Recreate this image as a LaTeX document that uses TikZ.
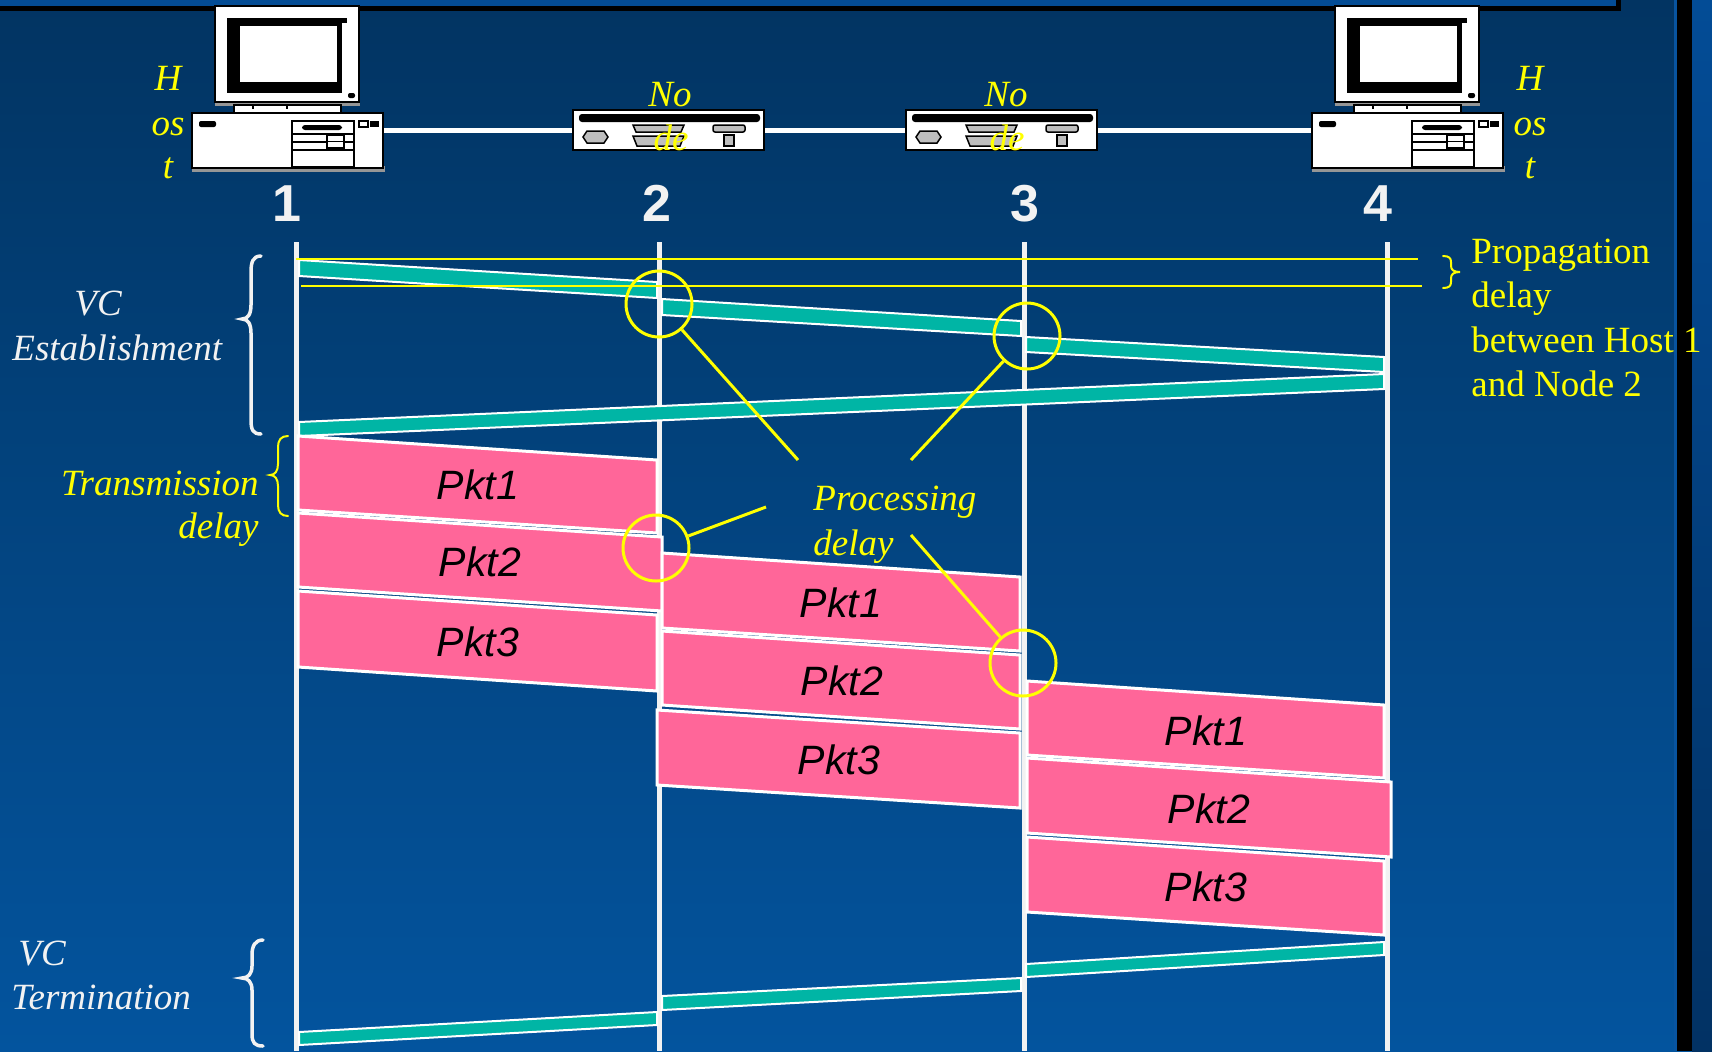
\documentclass[tikz,border=0pt]{standalone}
\usepackage{fontspec}
\setmainfont{Liberation Serif}
\setsansfont{Liberation Sans}
\definecolor{bgtop}{RGB}{2,52,98}
\definecolor{bgbot}{RGB}{3,84,158}
\definecolor{striptop}{RGB}{4,76,148}
\definecolor{sidetop}{RGB}{3,76,150}
\definecolor{sidebot}{RGB}{2,50,100}
\definecolor{sideline}{RGB}{8,84,160}
\definecolor{linegray}{RGB}{242,242,242}
\definecolor{barteal}{RGB}{0,181,165}
\definecolor{pktpink}{RGB}{255,102,153}
\definecolor{portgray}{RGB}{190,190,190}
\definecolor{shadowgray}{RGB}{150,150,150}
\definecolor{ylw}{RGB}{255,255,0}

% desktop computer, drawn at the position of host 1
\newcommand\drawcomputer{%
  \fill[shadowgray] (215,100) rectangle (360,106);
  \filldraw[fill=white, draw=black, line width=1pt] (215,6) rectangle (359,102);
  \fill[black] (227,18) rectangle (342,93);
  \fill[black] (227,18) rectangle (347,23);
  \fill[white] (240,26) rectangle (337,82);
  \fill[black, rounded corners=1pt] (348,93) rectangle (355,98);
  \filldraw[fill=white, draw=black, line width=0.75pt] (234,105) rectangle (341,113);
  \draw[black, line width=0.75pt] (253,104) -- (253,109) (287,104) -- (287,109);
  \fill[shadowgray] (192,166) rectangle (385,172);
  \filldraw[fill=white, draw=black, line width=1.25pt] (192,113) rectangle (383,168);
  \fill[black, rounded corners=1pt] (199,121) rectangle (216,127);
  \draw[black, line width=1pt] (292,121) rectangle (354,167);
  \fill[black, rounded corners=1.5pt] (302,125) rectangle (342,130);
  \draw[black, line width=0.75pt] (292,134) -- (354,134) (292,142) -- (327,142)
        (344,142) -- (354,142) (292,150) -- (354,150);
  \draw[black, line width=0.75pt] (327,135) rectangle (344,148) (327,141.5) -- (344,141.5);
  \draw[black, line width=0.75pt] (359,121) rectangle (368,127);
  \fill[black] (370,121) rectangle (379,127);
}

% network node, drawn at the position of node 2
\newcommand\drawrouter{%
  \filldraw[fill=white, draw=black, line width=1.25pt] (573,110) rectangle (764,150);
  \fill[black, rounded corners=1.5pt] (579,114) rectangle (760,122);
  \filldraw[fill=portgray, draw=black, line width=0.75pt]
    (583,137) -- (587,131) -- (604,131) -- (608,137) -- (604,143) -- (587,143) -- cycle;
  \filldraw[fill=portgray, draw=black, line width=0.75pt]
    (633,125) -- (684,125) -- (681,132) -- (636,132) -- cycle;
  \filldraw[fill=portgray, draw=black, line width=0.75pt]
    (633,136) -- (684,136) -- (680,146) -- (637,146) -- cycle;
  \filldraw[fill=portgray, draw=black, line width=0.75pt, rounded corners=1pt]
    (713,125) rectangle (745,132);
  \filldraw[fill=portgray, draw=black, line width=0.75pt] (724,135) rectangle (734,146);
}

\begin{document}
\begin{tikzpicture}[x=0.5pt, y=-0.5pt,
  tline/.style={draw=linegray, line width=2.5pt},
  yline/.style={draw=ylw, line width=1pt},
  bar/.style={fill=barteal, draw=white, line width=1pt},
  pkt/.style={fill=pktpink, draw=white, line width=1.5pt},
  ptxt/.style={font=\fontsize{20.5}{20.5}\selectfont\sffamily\itshape, text=black, inner sep=0pt},
  num/.style={font=\fontsize{26}{26}\selectfont\sffamily\bfseries, text=linegray, inner sep=0pt},
  ylbl/.style={font=\fontsize{18.5}{22}\selectfont\itshape, text=ylw, inner sep=0pt},
  wlbl/.style={font=\fontsize{18.5}{22}\selectfont\itshape, text=linegray, inner sep=0pt},
  plbl/.style={font=\fontsize{18.5}{22}\selectfont, text=ylw, inner sep=0pt},
  pcirc/.style={circle, draw=ylw, line width=1.5pt, minimum size=33pt, inner sep=0pt},
  lead/.style={draw=ylw, line width=1.5pt},
  wbrace/.style={draw=linegray, line width=1.75pt, line cap=round},
  ybrace/.style={draw=ylw, line width=1pt, line cap=round}]

\useasboundingbox (0,0) rectangle (1712,1051);

% background and frame
\shade[top color=bgtop, bottom color=bgbot] (0,0) rectangle (1712,1051);
\fill[striptop] (0,0) rectangle (1616,6);
\fill[black] (0,6) rectangle (1621,11);
\fill[black] (1616,0) rectangle (1621,11);
\fill[sideline] (1674,0) rectangle (1677,1051);
\fill[black] (1677,0) rectangle (1692,1051);
\shade[top color=sidetop, bottom color=sidebot] (1692,0) rectangle (1712,1051);

% link between the stations
\coordinate (linkA) at (384,130);
\coordinate (linkB) at (1311,130);
\draw[draw=white, line width=2.5pt] (linkA) -- (linkB);

% stations
\drawcomputer
\begin{scope}[shift={(1120,0)}]\drawcomputer\end{scope}
\drawrouter
\begin{scope}[shift={(333,0)}]\drawrouter\end{scope}

% station labels
\node[ylbl, anchor=base] (h1a) at (168,90) {H};
\node[ylbl, anchor=base] (h1b) at (168,135) {os};
\node[ylbl, anchor=base] (h1c) at (168,178) {t};
\node[ylbl, anchor=base] (h4a) at (1530,90) {H};
\node[ylbl, anchor=base] (h4b) at (1530,135) {os};
\node[ylbl, anchor=base] (h4c) at (1530,178) {t};
\node[ylbl, anchor=base] (r2a) at (670,106) {No};
\node[ylbl, anchor=base] (r2b) at (671,150) {de};
\node[ylbl, anchor=base] (r3a) at (1006,106) {No};
\node[ylbl, anchor=base] (r3b) at (1007,150) {de};

\node[num, anchor=base] (n1) at (287,221) {1};
\node[num, anchor=base] (n2) at (657,221) {2};
\node[num, anchor=base] (n3) at (1025,221) {3};
\node[num, anchor=base] (n4) at (1378,221) {4};

% time axes
\foreach \i/\x in {1/296, 2/659, 3/1024, 4/1387} {
  \coordinate (t\i) at (\x,242);
  \coordinate (b\i) at (\x,1051);
  \draw[tline] (t\i) -- (b\i);
}

% VC establishment
\draw[bar] (299,260) -- (657,282) -- (657,298) -- (299,276) -- cycle;
\draw[bar] (662,299) -- (1021,321) -- (1021,336) -- (662,315) -- cycle;
\draw[bar] (1026,337) -- (1384,357) -- (1384,372) -- (1026,352) -- cycle;
\draw[bar] (1384,374) -- (1384,389) -- (299,436) -- (299,422) -- cycle;

% packets, hop 1
\draw[pkt] (298,436) -- (657,460) -- (657,533) -- (298,510) -- cycle;
\draw[pkt] (298,513) -- (662,537) -- (662,611) -- (298,587) -- cycle;
\draw[pkt] (298,591) -- (657,615) -- (657,691) -- (298,667) -- cycle;
% packets, hop 2
\draw[pkt] (662,553) -- (1020,577) -- (1020,651) -- (662,628) -- cycle;
\draw[pkt] (662,631) -- (1020,655) -- (1020,729) -- (662,705) -- cycle;
\draw[pkt] (657,710) -- (1020,733) -- (1020,808) -- (657,785) -- cycle;
% packets, hop 3
\draw[pkt] (1027,681) -- (1384,705) -- (1384,778) -- (1027,755) -- cycle;
\draw[pkt] (1027,758) -- (1391,782) -- (1391,857) -- (1027,833) -- cycle;
\draw[pkt] (1027,837) -- (1384,861) -- (1384,935) -- (1027,912) -- cycle;

\node[ptxt] (p11) at (478,485) {Pkt1};
\node[ptxt] (p12) at (480,562) {Pkt2};
\node[ptxt] (p13) at (478,642) {Pkt3};
\node[ptxt] (p21) at (841,603) {Pkt1};
\node[ptxt] (p22) at (842,681) {Pkt2};
\node[ptxt] (p23) at (839,760) {Pkt3};
\node[ptxt] (p31) at (1206,731) {Pkt1};
\node[ptxt] (p32) at (1209,809) {Pkt2};
\node[ptxt] (p33) at (1206,887) {Pkt3};

% VC termination
\draw[bar] (1026,964) -- (1384,942) -- (1384,955) -- (1026,977) -- cycle;
\draw[bar] (662,996) -- (1021,978) -- (1021,991) -- (662,1010) -- cycle;
\draw[bar] (299,1032) -- (657,1012) -- (657,1025) -- (299,1045) -- cycle;

% propagation delay markers
\coordinate (ya1) at (296,259);
\coordinate (ya2) at (1418,259);
\coordinate (yb1) at (301,286);
\coordinate (yb2) at (1422,286);
\draw[yline] (ya1) -- (ya2);
\draw[yline] (yb1) -- (yb2);
\draw[ybrace] (1443,256) .. controls (1449,256) and (1451,258) .. (1451,262) -- (1451,266)
  .. controls (1451,270) and (1454,272) .. (1460,272)
  .. controls (1454,272) and (1451,274) .. (1451,278) -- (1451,282)
  .. controls (1451,286) and (1449,288) .. (1443,288);
\node[plbl, anchor=base west] (pr1) at (1471,263) {Propagation};
\node[plbl, anchor=base west] (pr2) at (1471,307) {delay};
\node[plbl, anchor=base west] (pr3) at (1471,352) {between Host 1};
\node[plbl, anchor=base west] (pr4) at (1471,396) {and Node 2};

% processing delay markers
\node[pcirc] (c1) at (659,304) {};
\node[pcirc] (c2) at (1027,336) {};
\node[pcirc] (c3) at (656,548) {};
\node[pcirc] (c4) at (1023,663) {};
\coordinate (q1) at (798,460);
\coordinate (q2) at (911,460);
\coordinate (q3) at (766,507);
\coordinate (q4) at (911,535);
\draw[lead] (q1) -- (c1);
\draw[lead] (q2) -- (c2);
\draw[lead] (q3) -- (c3);
\draw[lead] (q4) -- (c4);
\node[ylbl, anchor=base west] (pd1) at (813,510) {Processing};
\node[ylbl, anchor=base west] (pd2) at (813,555) {delay};

% transmission delay
\draw[ybrace] (288,436) .. controls (281,436) and (278,440) .. (278,447) -- (278,464)
  .. controls (278,471) and (275,475) .. (270,475)
  .. controls (275,475) and (278,479) .. (278,486) -- (278,505)
  .. controls (278,512) and (281,516) .. (288,516);
\node[ylbl, anchor=base east] (td1) at (259,495) {Transmission};
\node[ylbl, anchor=base east] (td2) at (259,538) {delay};

% phase braces and labels
\draw[wbrace] (261,256) .. controls (253,256) and (251,262) .. (251,272) -- (251,305)
  .. controls (251,314) and (248,319) .. (242,319)
  .. controls (248,319) and (251,324) .. (251,333) -- (251,420)
  .. controls (251,430) and (253,434) .. (261,434);
\node[wlbl, anchor=base west] (ve1) at (74,315) {VC};
\node[wlbl, anchor=base west] (ve2) at (12,360) {Establishment};

\draw[wbrace] (263,940) .. controls (255,940) and (252,946) .. (252,955) -- (252,966)
  .. controls (252,974) and (248,978) .. (242,978)
  .. controls (248,978) and (252,982) .. (252,990) -- (252,1034)
  .. controls (252,1043) and (255,1046) .. (263,1046);
\node[wlbl, anchor=base west] (vt1) at (18,965) {VC};
\node[wlbl, anchor=base west] (vt2) at (11,1009) {Termination};

\end{tikzpicture}
\end{document}
